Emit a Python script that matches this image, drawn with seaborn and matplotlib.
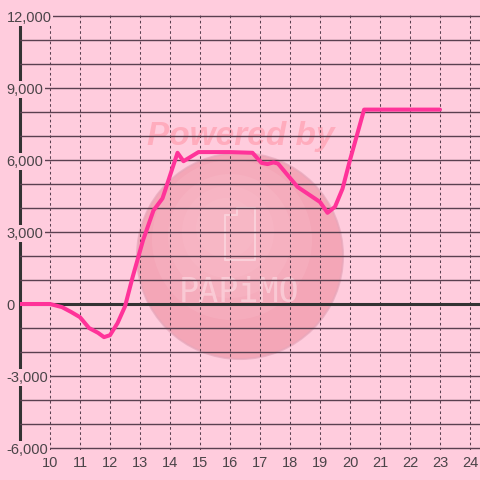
import matplotlib
matplotlib.use('Agg')
import matplotlib.pyplot as plt
import seaborn as sns
import pandas as pd
from matplotlib.ticker import FixedLocator, FuncFormatter, NullLocator
from matplotlib.patches import Circle, Polygon

# ---- data ----
hours = [9.0, 10.0, 10.4, 10.7, 11.0, 11.3, 11.6, 11.8, 12.0, 12.25, 12.5,
         12.75, 13.1, 13.45, 13.75, 14.25, 14.45, 14.95, 16.0, 16.75, 17.05,
         17.25, 17.45, 17.6, 18.25, 19.0, 19.25, 19.5, 19.75, 20.0, 20.47, 23.0]
values = [0, 0, -130, -330, -550, -1000, -1200, -1380, -1300, -800, -100,
          1100, 2650, 3900, 4400, 6300, 5950, 6330, 6330, 6300, 5880,
          5830, 5900, 5850, 4880, 4250, 3800, 4050, 4800, 6000, 8100, 8100]
x_ticks = list(range(10, 25))
y_ticks = list(range(-6000, 12001, 3000))
y_grid = list(range(-6000, 12001, 1000))

BG = '#ffccdd'
LINE = '#ff3399'
GRID = '#5a4050'
TEXT = '#4a4448'
AXIS = '#333333'

sns.set_style('white')
plt.rcParams['font.family'] = ['Liberation Sans', 'DejaVu Sans']

W = 480.0
def fx(px):
    return px / W
def fy(py):
    return 1 - py / W

fig = plt.figure(figsize=(4.8, 4.8), dpi=100, facecolor=BG)
ax = fig.add_axes([20 / W, 29.6 / W, 460 / W, 436.8 / W])
ax.set_facecolor(BG)

df = pd.DataFrame({'hour': hours, 'value': values})
sns.lineplot(data=df, x='hour', y='value', ax=ax, sort=False, estimator=None,
             color=LINE, lw=2.9, zorder=6)

ax.set_xlim(9, 9 + 460 / 30)
ax.set_ylim(-6100, 12100)
ax.set_xlabel('')
ax.set_ylabel('')

ax.xaxis.set_major_locator(FixedLocator(x_ticks))
ax.xaxis.set_minor_locator(NullLocator())
ax.yaxis.set_major_locator(FixedLocator(y_ticks))
ax.yaxis.set_minor_locator(FixedLocator(y_grid))
ax.yaxis.set_major_formatter(FuncFormatter(lambda v, p: f'{int(v):,}'))

ax.grid(axis='y', which='both', color=GRID, lw=1.0, ls='-')
ax.grid(axis='x', which='major', color=GRID, lw=0.75, ls=(0, (2.5, 2.5)))

ax.tick_params(axis='both', which='both', length=0, labelsize=10.5,
               labelcolor=TEXT)
ax.tick_params(axis='x', pad=4)
ax.tick_params(axis='y', pad=9.8)
for lab in ax.get_yticklabels():
    lab.set_horizontalalignment('left')
    lab.set_bbox(dict(facecolor=BG, edgecolor='none', pad=1.0))

ax.xaxis.set_zorder(4.9)
ax.yaxis.set_zorder(5)

for s in ['top', 'right', 'bottom']:
    ax.spines[s].set_visible(False)
ax.spines['left'].set_color(AXIS)
ax.spines['left'].set_linewidth(2.2)
ax.spines['left'].set_bounds(-6000, 12000)
ax.spines['left'].set_zorder(2.5)

ax.axhline(0, color=AXIS, lw=2.2, zorder=5.2)

# ---- watermark (under the grid) ----
tf = fig.transFigure
WM = '#fcd6df'
ax.add_patch(Circle((fx(240), fy(256)), 103 / W, transform=tf,
                    facecolor='#f096a8', alpha=0.7, edgecolor='#e6a6ba',
                    lw=1.5, zorder=3))
# soft highlight built from a few faint concentric discs
for i, r in enumerate([80, 62, 46, 30]):
    ax.add_patch(Circle((fx(232 - i * 2), fy(240 - i * 4)), r / W,
                        transform=tf, facecolor='#fbc3cf', alpha=0.22,
                        edgecolor='none', zorder=3.1 + i * 0.01))
phone = [(fx(225), fy(215)), (fx(237), fy(215)), (fx(237), fy(208)),
         (fx(255), fy(208)), (fx(255), fy(260)), (fx(225), fy(260))]
ax.add_patch(Polygon(phone, closed=True, transform=tf, fill=False,
                     edgecolor=WM, lw=1.5, alpha=0.8, joinstyle='round',
                     zorder=3.3))
ax.text(fx(241), fy(145), 'Powered by', transform=tf, ha='center',
        va='baseline', fontsize=24, fontweight='bold', fontstyle='italic',
        color='#ffacbd', zorder=3.3)
ax.text(fx(239), fy(302), 'PAPiMO', transform=tf, ha='center',
        va='baseline', fontsize=24, family=['DejaVu Sans Mono'],
        color=WM, alpha=0.7, zorder=3.3)

fig.savefig('out.png', dpi=100, facecolor=BG)
